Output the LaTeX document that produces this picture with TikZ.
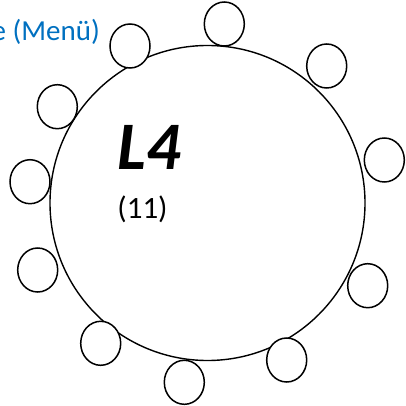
\documentclass[tikz,border=0pt]{standalone}
\usepackage{fontspec}
\setmainfont{Carlito}
\usetikzlibrary{shapes.geometric}
\definecolor{menublue}{HTML}{0070C0}
\tikzset{
  seat/.style={draw, fill=white, ellipse, line width=1.5pt, minimum width=40pt, minimum height=44pt, inner sep=0pt},
  tablebox/.style={draw, circle, line width=1.4pt, minimum size=315pt, inner sep=0pt}
}
\begin{document}
\begin{tikzpicture}[x=1pt,y=-1pt]
\useasboundingbox (0,0) rectangle (405,406);
\clip (0,0) rectangle (405,406);
\node[tablebox] (big) at (207.5,203) {};
\node[seat] (s1) at (130,46) {};
\node[seat] (s2) at (224.3,24) {};
\node[seat] (s3) at (326.7,66) {};
\node[seat] (s4) at (384.3,160) {};
\node[seat] (s5) at (367.7,285.7) {};
\node[seat] (s6) at (286.7,360) {};
\node[seat] (s7) at (184.3,382.3) {};
\node[seat] (s8) at (100.7,343.3) {};
\node[seat] (s9) at (37.7,270) {};
\node[seat] (s10) at (30,181.7) {};
\node[seat] (s11) at (57.3,106.7) {};
\node[inner sep=0pt, font=\fontsize{68}{68}\selectfont\bfseries\itshape] (name) at (149,147.5) {L4};
\node[inner sep=0pt, font=\fontsize{31}{31}\selectfont] (count) at (142.5,209.5) {(11)};
\node[inner sep=0pt, anchor=east, text=menublue, font=\fontsize{29}{29}\selectfont] (menu) at (100,32) {e (Menü)};
\end{tikzpicture}
\end{document}
